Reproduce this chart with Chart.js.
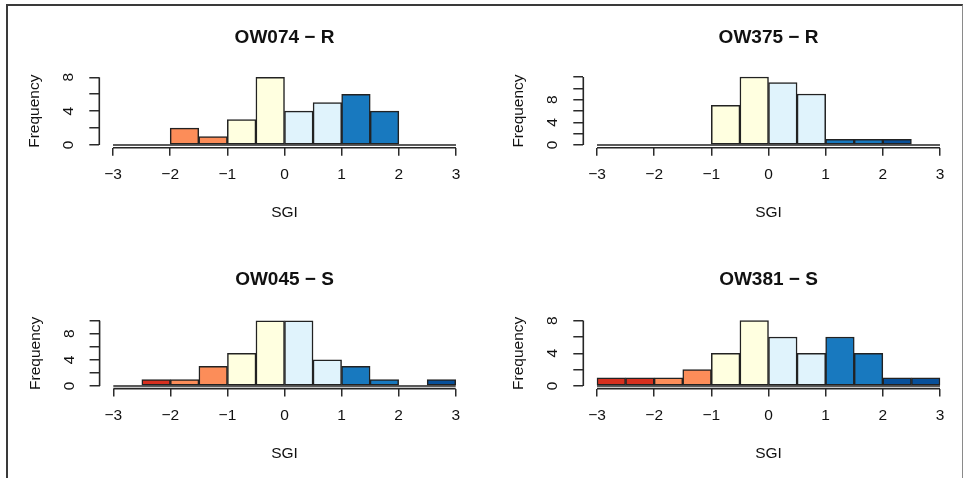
<!DOCTYPE html>
<html><head><meta charset="utf-8">
<script src="https://cdn.jsdelivr.net/npm/chart.js@4"></script>
<style>
html,body{margin:0;padding:0;background:#fff;}
#page{position:relative;width:964px;height:478px;overflow:hidden;background:#fff;}
#frame{position:absolute;left:6px;top:4px;width:954px;height:490px;border-left:2px solid #3a3a3a;border-top:2px solid #3a3a3a;border-right:1px solid #8a8a8a;}
canvas{position:absolute;}
</style></head><body>
<div id="page"><div id="frame"></div>
<canvas id="c1" width="482" height="239" style="left:0px;top:0px"></canvas>
<canvas id="c2" width="482" height="239" style="left:482px;top:0px"></canvas>
<canvas id="c3" width="482" height="239" style="left:0px;top:239px"></canvas>
<canvas id="c4" width="482" height="239" style="left:482px;top:239px"></canvas>
</div>
<script>
// ---- data ----
const binEdges   = [-3,-2.5,-2,-1.5,-1,-0.5,0,0.5,1,1.5,2,2.5,3];
const binCenters = [-2.75,-2.25,-1.75,-1.25,-0.75,-0.25,0.25,0.75,1.25,1.75,2.25,2.75];
const xTicks = [-3,-2,-1,0,1,2,3];
const yLabelValues = [0,4,8];
const titles = ['OW074 \u2212 R','OW375 \u2212 R','OW045 \u2212 S','OW381 \u2212 S'];
const countsOW074 = [0,0,2,1,3,8,4,5,6,4,0,0];
const countsOW375 = [0,0,0,0,7,12,11,9,1,1,1,0];
const countsOW045 = [0,1,1,3,5,10,10,4,3,1,0,1];
const countsOW381 = [1,1,1,2,4,8,6,4,6,4,1,1];
const yTicksOW074 = [0,2,4,6,8];
const yTicksOW375 = [0,2,4,6,8,10,12];
const yTicksOW045 = [0,2,4,6,8,10];
const yTicksOW381 = [0,2,4,6,8];

// ---- styles ----
const binColors = ['#D7301F','#D7301F','#FC8D59','#FC8D59','#FFFFE0','#FFFFE0',
                   '#E0F3FC','#E0F3FC','#1879BF','#1879BF','#08509A','#08509A'];

// panel plot regions (canvas-local): L,R,T,B and title centre y
const panels = [
  {id:'c1', counts:countsOW074, yTicks:yTicksOW074, L:99.3,  R:469.7, T:74.6, B:147.7, ty:37.5},
  {id:'c2', counts:countsOW375, yTicks:yTicksOW375, L:101.3, R:471.7, T:74.3, B:147.7, ty:37.8},
  {id:'c3', counts:countsOW045, yTicks:yTicksOW045, L:99.6,  R:469.4, T:79.1, B:149.6, ty:41},
  {id:'c4', counts:countsOW381, yTicks:yTicksOW381, L:101.3, R:471.7, T:79.0, B:149.6, ty:40.7}
];

Chart.defaults.font.family = "'Liberation Sans', Arial, sans-serif";
Chart.defaults.color = '#111';

const axisLines = {
  id:'axisLines',
  afterDraw(chart){
    const {ctx, chartArea, scales:{x,y}} = chart;
    const yt = chart.options.plugins.axisLines.yTicks;
    ctx.save();
    ctx.strokeStyle = '#262626';
    ctx.lineWidth = 1.6;
    ctx.beginPath();
    const y0 = y.getPixelForValue(0);
    ctx.moveTo(x.getPixelForValue(binEdges[0]), y0);
    ctx.lineTo(x.getPixelForValue(binEdges[binEdges.length-1]), y0);
    ctx.moveTo(x.getPixelForValue(xTicks[0]), chartArea.bottom);
    ctx.lineTo(x.getPixelForValue(xTicks[xTicks.length-1]), chartArea.bottom);
    ctx.moveTo(chartArea.left, y0);
    ctx.lineTo(chartArea.left, y.getPixelForValue(yt[yt.length-1]));
    ctx.stroke();
    ctx.restore();
  }
};

panels.forEach((p, i) => {
  const W = 482, H = 239;
  const ymax = Math.max(...p.counts);
  new Chart(document.getElementById(p.id), {
    type:'bar',
    data:{
      datasets:[{
        data: binCenters.map((c,k)=>({x:c, y:p.counts[k]})),
        backgroundColor: binColors,
        borderColor:'#222',
        borderWidth:1.5,
        borderSkipped:false,
        barPercentage:1,
        categoryPercentage:1
      }]
    },
    options:{
      responsive:false,
      animation:false,
      devicePixelRatio:1,
      events:[],
      layout:{padding:{left:p.L-80, right:W-p.R, top:0, bottom:H-(p.B+74)}},
      plugins:{
        legend:{display:false},
        tooltip:{enabled:false},
        axisLines:{yTicks:p.yTicks},
        title:{
          display:true, text:titles[i], fullSize:false, color:'#111',
          font:{size:19, weight:'bold', lineHeight:1},
          padding:{top:p.ty-9.5, bottom:p.T-p.ty-9.5}
        }
      },
      scales:{
        x:{
          type:'linear', min:-3.24, max:3.24, offset:false,
          afterBuildTicks:s=>{ s.ticks = xTicks.map(v=>({value:v})); },
          afterFit:s=>{ s.height = 74; },
          ticks:{autoSkip:false, minRotation:0, maxRotation:0, padding:10, color:'#111',
                 font:{size:15.5}, callback:v=> v<0 ? '\u2212'+Math.abs(v) : String(v)},
          grid:{offset:false, drawOnChartArea:false, drawTicks:true, tickLength:8, color:'#2b2b2b', lineWidth:1.5},
          border:{display:false},
          title:{display:true, text:'SGI', color:'#111', font:{size:15.5}, padding:{top:0,bottom:0}}
        },
        y:{
          type:'linear', min:-0.04*ymax, max:1.04*ymax,
          afterBuildTicks:s=>{ s.ticks = p.yTicks.map(v=>({value:v})); },
          afterFit:s=>{ s.width = 80; },
          ticks:{autoSkip:false, minRotation:90, maxRotation:90, crossAlign:'center', padding:16,
                 color:'#111', font:{size:15.5}, callback:v=> yLabelValues.includes(v) ? String(v) : ''},
          grid:{drawOnChartArea:false, drawTicks:true, tickLength:10, color:'#2b2b2b', lineWidth:1.5},
          border:{display:false},
          title:{display:true, text:'Frequency', color:'#111', font:{size:15.5}, padding:{top:6.4,bottom:0}}
        }
      }
    },
    plugins:[axisLines]
  });
});
</script>
</body></html>
